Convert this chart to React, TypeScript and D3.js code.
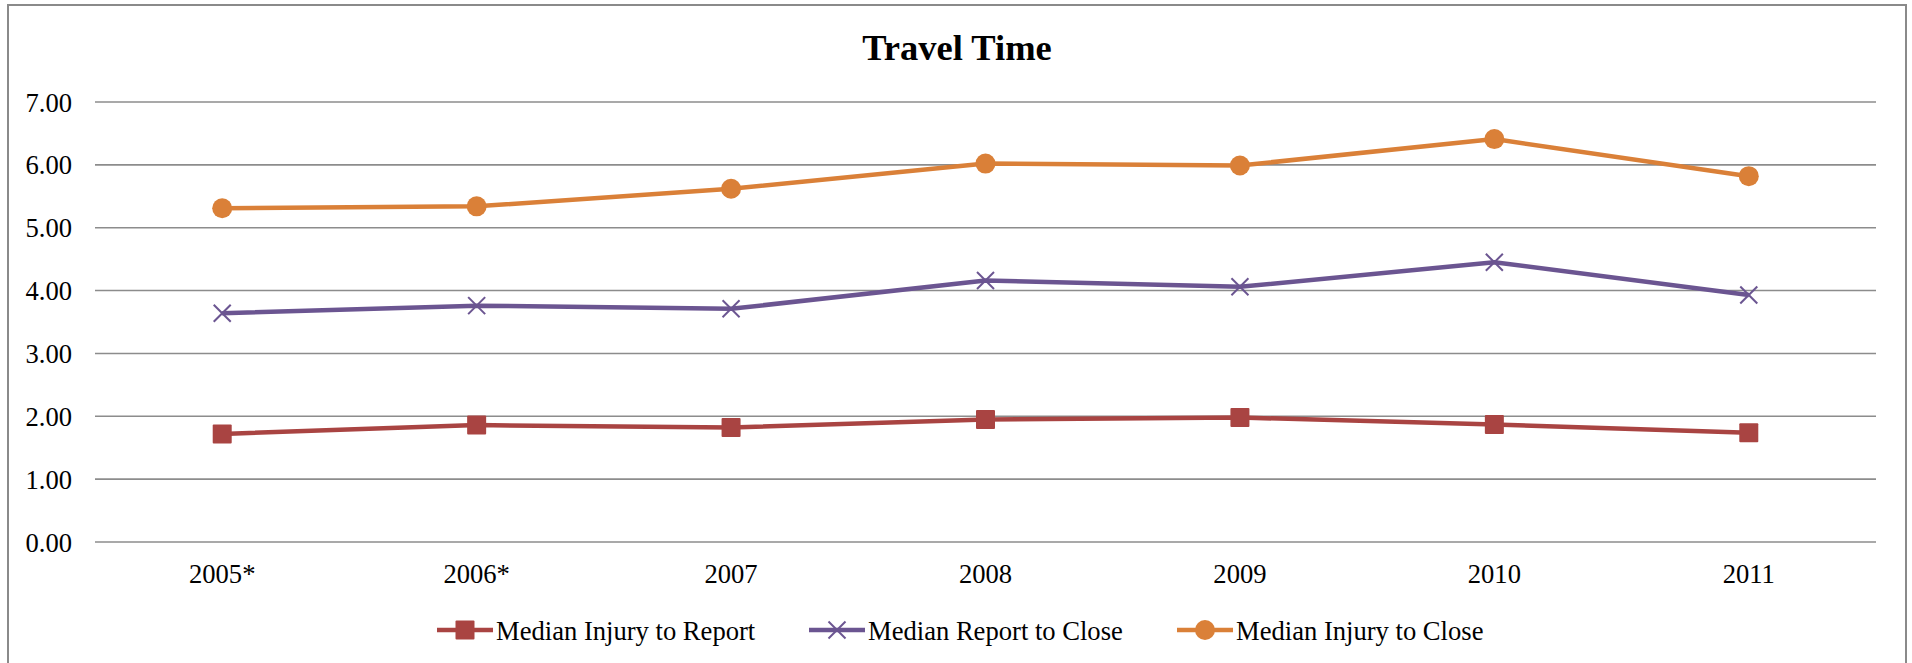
import React from "react";
import * as d3 from "d3";

const categories = ["2005*", "2006*", "2007", "2008", "2009", "2010", "2011"];
const injuryToReport = [1.72, 1.86, 1.82, 1.95, 1.98, 1.87, 1.74];
const reportToClose = [3.64, 3.76, 3.71, 4.16, 4.06, 4.45, 3.93];
const injuryToClose = [5.31, 5.34, 5.62, 6.02, 5.99, 6.41, 5.82];
const yTicks = [0, 1, 2, 3, 4, 5, 6, 7];

const seriesList = [
  { name: "Median Injury to Report", values: injuryToReport, color: "#A94442", marker: "square" },
  { name: "Median Report to Close", values: reportToClose, color: "#6B5591", marker: "x" },
  { name: "Median Injury to Close", values: injuryToClose, color: "#DA8038", marker: "circle" },
];

const W = 1912;
const H = 663;
const left = 95;
const right = 1876;
const top = 102;
const bottom = 542;
const font = "'Liberation Serif', 'Times New Roman', serif";
const fs = 26.6;

function Marker({ type, x, y, color }: { type: string; x: number; y: number; color: string }) {
  if (type === "square") {
    return <rect x={x - 9.5} y={y - 9.5} width={19} height={19} fill={color} rx={1} />;
  }
  if (type === "circle") {
    return <circle cx={x} cy={y} r={10} fill={color} />;
  }
  const s = 8.5;
  return (
    <g stroke={color} strokeWidth={2}>
      <line x1={x - s} y1={y - s} x2={x + s} y2={y + s} />
      <line x1={x - s} y1={y + s} x2={x + s} y2={y - s} />
    </g>
  );
}

export default function App() {
  const x = d3.scalePoint<string>().domain(categories).range([left, right]).padding(0.5);
  const y = d3.scaleLinear().domain([0, 7]).range([bottom, top]);
  const line = d3
    .line<number>()
    .x((_, i) => x(categories[i]) as number)
    .y((d) => y(d));

  const legendItems = [
    { lx: 437, tx: 496 },
    { lx: 809, tx: 868 },
    { lx: 1177, tx: 1236 },
  ];
  const legendY = 630;

  return (
    <svg
      width={W}
      height={H}
      style={{ position: "fixed", left: 0, top: 0, background: "#fff" }}
      fontFamily={font}
    >
      <rect x={8} y={5} width={1898} height={700} fill="#fff" stroke="#8a8a8a" strokeWidth={2} />
      <text x={957} y={60} textAnchor="middle" fontSize={36.5} fontWeight="bold" fill="#000">
        Travel Time
      </text>
      {yTicks.map((t) => (
        <g key={t}>
          <line x1={left} x2={right} y1={y(t)} y2={y(t)} stroke="#8c8c8c" strokeWidth={1.6} />
          <text x={72} y={y(t) + 9.5} textAnchor="end" fontSize={fs} fill="#000">
            {d3.format(".2f")(t)}
          </text>
        </g>
      ))}
      {categories.map((c) => (
        <text key={c} x={x(c)} y={583} textAnchor="middle" fontSize={fs} fill="#000">
          {c}
        </text>
      ))}
      {seriesList.map((s) => (
        <g key={s.name}>
          <path d={line(s.values) || ""} fill="none" stroke={s.color} strokeWidth={4.5} strokeLinejoin="round" />
          {s.values.map((v, i) => (
            <Marker key={i} type={s.marker} x={x(categories[i]) as number} y={y(v)} color={s.color} />
          ))}
        </g>
      ))}
      {seriesList.map((s, i) => {
        const it = legendItems[i];
        return (
          <g key={s.name}>
            <line x1={it.lx} x2={it.lx + 56} y1={legendY} y2={legendY} stroke={s.color} strokeWidth={4.5} />
            <Marker type={s.marker} x={it.lx + 28} y={legendY} color={s.color} />
            <text x={it.tx} y={legendY + 9.5} fontSize={fs} fill="#000">
              {s.name}
            </text>
          </g>
        );
      })}
    </svg>
  );
}
